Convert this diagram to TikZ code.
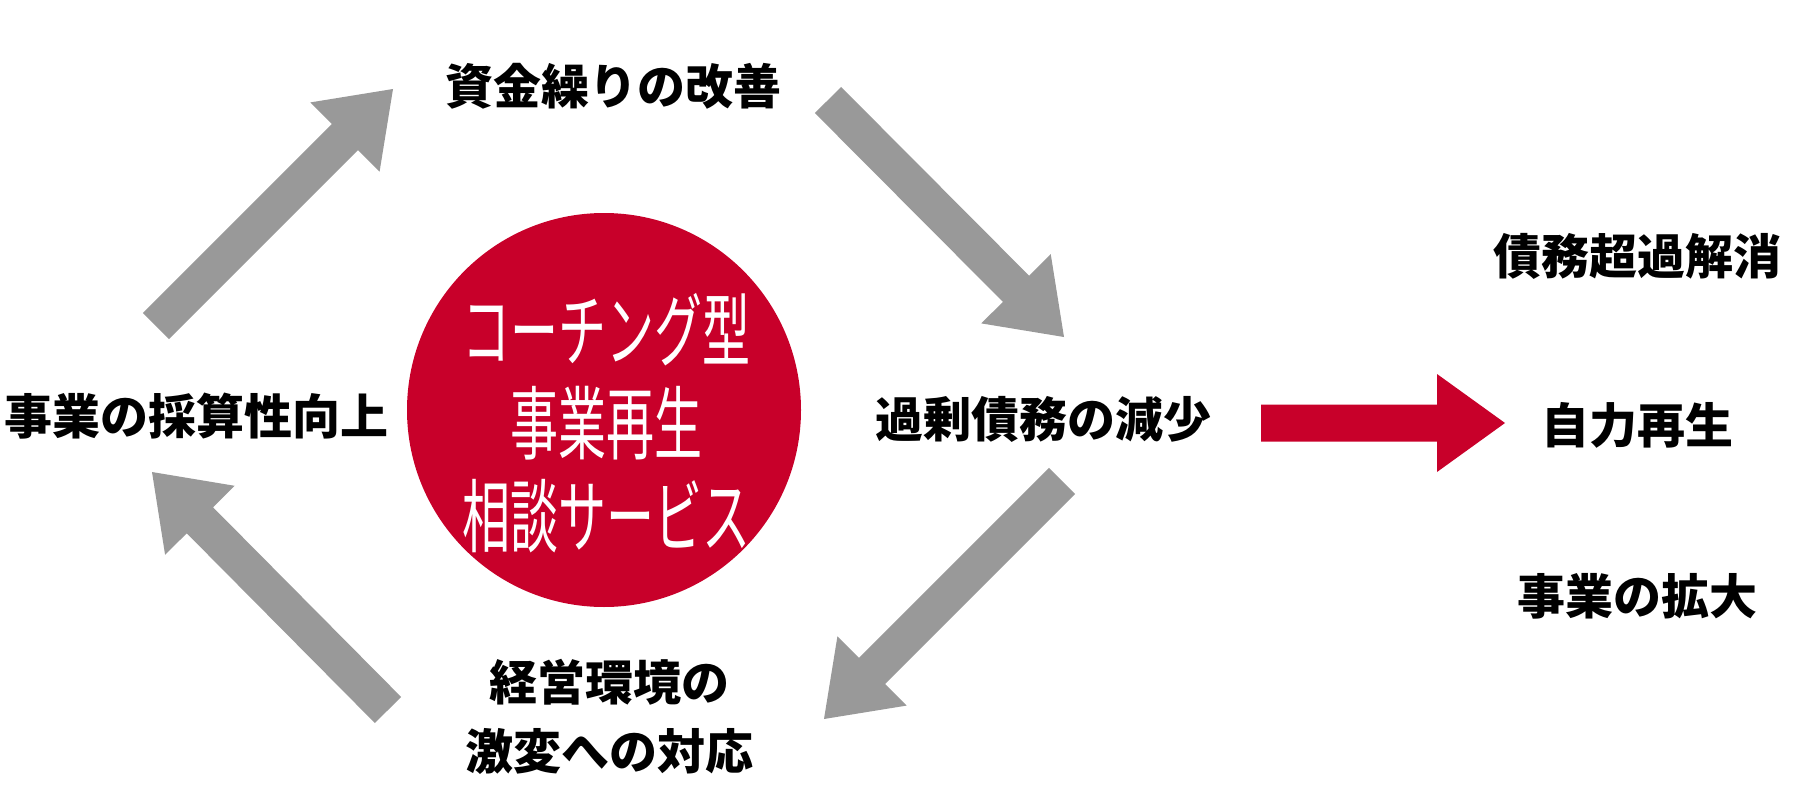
\documentclass[tikz,border=0pt]{standalone}
\usepackage{fontspec}
\usepackage{graphicx}
\usetikzlibrary{calc}
\newfontfamily\jp{Noto Sans CJK JP}
\definecolor{arrowgray}{RGB}{153,153,153}
\definecolor{brandred}{RGB}{200,0,42}
% fat block arrow from named point #2 (tail) to named point #3 (tip)
\newcommand\fatarrow[3][arrowgray]{%
  \coordinate (fa-base) at ($(#3)!68pt!(#2)$);
  \fill[#1] ($(#2)!18.5pt!-90:(#3)$) -- ($(fa-base)!18.5pt!90:(#2)$)
    -- ($(fa-base)!49pt!90:(#2)$) -- (#3) -- ($(fa-base)!49pt!-90:(#2)$)
    -- ($(fa-base)!18.5pt!-90:(#2)$) -- ($(#2)!18.5pt!90:(#3)$) -- cycle;}
\tikzset{
  lbl/.style={font=\jp\bfseries\fontsize{48pt}{69pt}\selectfont, text=black, inner sep=0pt, align=center},
  hubtext/.style={font=\jp\fontsize{80pt}{86pt}\selectfont, text=white, inner sep=0pt}
}
\begin{document}
\begin{tikzpicture}[x=1pt,y=-1pt]
\useasboundingbox (0,0) rectangle (1800,800);
\fill[white] (0,0) rectangle (1800,800);

% central circle
\node[circle, fill=brandred, minimum size=394pt, inner sep=0pt] (hub) at (604,410) {};
\node[hubtext] (hubtxt) at (606,433) {\scalebox{0.6}[1]{\begin{tabular}{@{}c@{}}コーチング型\\事業再生\\相談サービス\end{tabular}}};

% cycle labels
\node[lbl] (top) at (613,86) {資金繰りの改善};
\node[lbl] (left) at (197,416) {事業の採算性向上};
\node[lbl] (right) at (1043,419) {過剰債務の減少};
\node[lbl] (bottom) at (609,717) {経営環境の\\激変への対応};

% result labels
\node[lbl] (r1) at (1637,256) {債務超過解消};
\node[lbl] (r2) at (1637,425) {自力再生};
\node[lbl] (r3) at (1637,596) {事業の拡大};

% arrow end points
\coordinate (a1s) at (156,326); \coordinate (a1e) at (393,89);
\coordinate (a2s) at (828,100); \coordinate (a2e) at (1064,337);
\coordinate (a3s) at (1062,481); \coordinate (a3e) at (824,719);
\coordinate (a4s) at (388,710); \coordinate (a4e) at (152,472);
\coordinate (rs) at (1261,423); \coordinate (re) at (1505,423);

\fatarrow{a1s}{a1e}
\fatarrow{a2s}{a2e}
\fatarrow{a3s}{a3e}
\fatarrow{a4s}{a4e}
\fatarrow[brandred]{rs}{re}
\end{tikzpicture}
\end{document}
